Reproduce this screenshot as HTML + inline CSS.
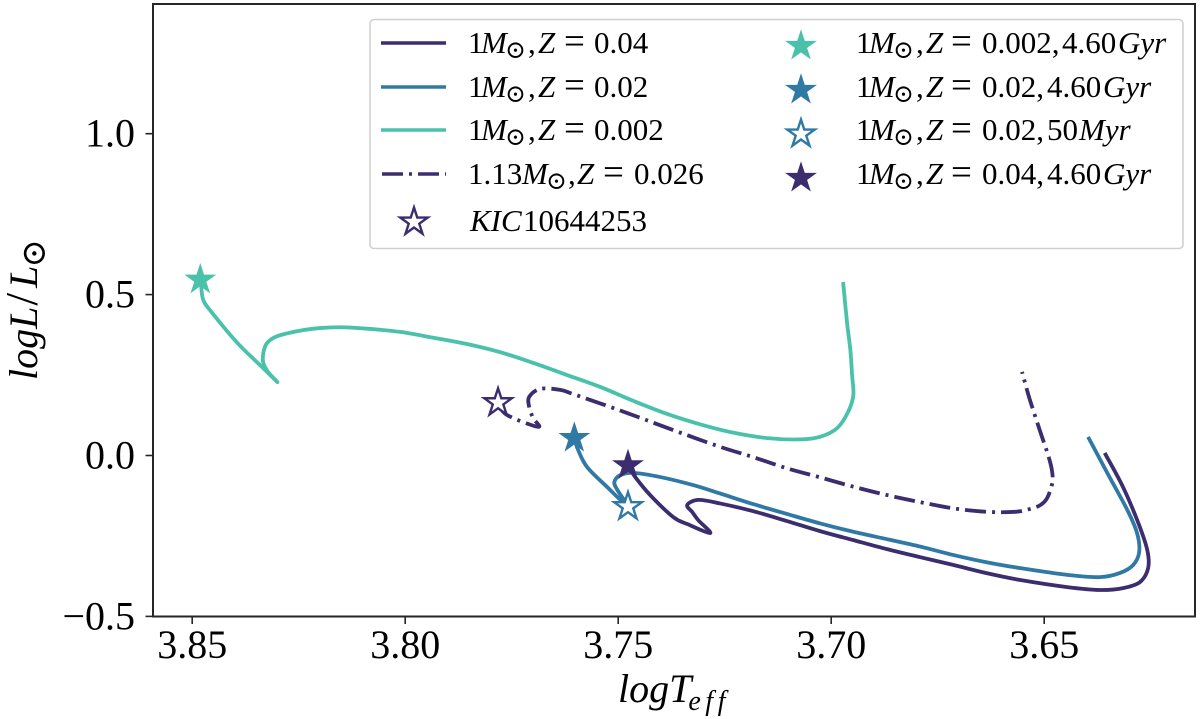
<!DOCTYPE html>
<html>
<head>
<meta charset="utf-8">
<title>HR diagram</title>
<style>
html,body{margin:0;padding:0;background:#fff;}
svg{display:block;}
text{font-family:"Liberation Serif","DejaVu Serif",serif;fill:#000;}
.i{font-style:italic;}
.leg{font-size:31px;}
.sun{font-size:25px;}
.eq{font-size:37px;}
.tick{font-size:40px;}
.axt{font-size:40px;}
</style>
</head>
<body>
<svg id="chart" width="1200" height="719" viewBox="0 0 1200 719" xmlns="http://www.w3.org/2000/svg">
  <rect x="153" y="4" width="1042" height="612.5" fill="#fff"/>
  <g id="marks"></g>
  <g id="axes"></g>

  <text class="axt" x="618" y="702"><tspan class="i">logT</tspan><tspan class="i" font-size="28" dy="8" dx="-3" letter-spacing="4.5">eff</tspan></text>
  <text class="axt" transform="translate(37,380) rotate(-90)"><tspan class="i">logL</tspan><tspan dx="1" font-size="46">/</tspan><tspan class="i" dx="5">L</tspan><tspan font-size="34" dy="8" dx="-2">⊙</tspan></text>

  <g>
    <rect x="370" y="19.5" width="813" height="229" rx="4" fill="#fff" fill-opacity="0.9" stroke="#d0d0d0" stroke-width="1.6"/>
    <g>
      <line x1="381" y1="43" x2="446" y2="43" stroke="#3c2d6e" stroke-width="3.6"/>
      <text class="leg" y="53"><tspan x="468">1</tspan><tspan class="i" x="481">M</tspan><tspan class="sun" x="505" dy="5">⊙</tspan><tspan x="528" dy="-5">,</tspan><tspan class="i" x="538">Z</tspan><tspan class="eq" x="564">=</tspan><tspan x="594">0.04</tspan></text>
    </g>
    <g>
      <line x1="381" y1="87" x2="446" y2="87" stroke="#3079a5" stroke-width="3.6"/>
      <text class="leg" y="97"><tspan x="468">1</tspan><tspan class="i" x="481">M</tspan><tspan class="sun" x="505" dy="5">⊙</tspan><tspan x="528" dy="-5">,</tspan><tspan class="i" x="538">Z</tspan><tspan class="eq" x="564">=</tspan><tspan x="594">0.02</tspan></text>
    </g>
    <g>
      <line x1="381" y1="130" x2="446" y2="130" stroke="#4ac1ab" stroke-width="3.6"/>
      <text class="leg" y="140"><tspan x="468">1</tspan><tspan class="i" x="481">M</tspan><tspan class="sun" x="505" dy="5">⊙</tspan><tspan x="528" dy="-5">,</tspan><tspan class="i" x="538">Z</tspan><tspan class="eq" x="564">=</tspan><tspan x="594">0.002</tspan></text>
    </g>
    <g>
      <line x1="382" y1="174" x2="446" y2="174" stroke="#3c2d6e" stroke-width="3.6" stroke-dasharray="21 6 3 6"/>
      <text class="leg" y="184"><tspan x="468">1.13</tspan><tspan class="i" x="522">M</tspan><tspan class="sun" x="546" dy="5">⊙</tspan><tspan x="568" dy="-5">,</tspan><tspan class="i" x="577">Z</tspan><tspan class="eq" x="603">=</tspan><tspan x="634">0.026</tspan></text>
    </g>
    <g>
      <polygon id="legend-star-kic" fill="#fff" stroke="#3c2d6e" stroke-width="2.4"/>
      <text class="leg" x="470" y="231"><tspan class="i">KIC</tspan><tspan x="523">10644253</tspan></text>
    </g>
    <g>
      <polygon id="legend-star-a" fill="#4ac1ab" stroke="#4ac1ab" stroke-width="2"/>
      <text class="leg" y="53"><tspan x="856">1</tspan><tspan class="i" x="869">M</tspan><tspan class="sun" x="893" dy="5">⊙</tspan><tspan x="916" dy="-5">,</tspan><tspan class="i" x="926">Z</tspan><tspan class="eq" x="951">=</tspan><tspan x="982">0.002,</tspan><tspan x="1062">4.60</tspan><tspan class="i" x="1118">Gyr</tspan></text>
    </g>
    <g>
      <polygon id="legend-star-b" fill="#3079a5" stroke="#3079a5" stroke-width="2"/>
      <text class="leg" y="97"><tspan x="856">1</tspan><tspan class="i" x="869">M</tspan><tspan class="sun" x="893" dy="5">⊙</tspan><tspan x="916" dy="-5">,</tspan><tspan class="i" x="926">Z</tspan><tspan class="eq" x="951">=</tspan><tspan x="982">0.02,</tspan><tspan x="1047">4.60</tspan><tspan class="i" x="1103">Gyr</tspan></text>
    </g>
    <g>
      <polygon id="legend-star-c" fill="#fff" stroke="#3079a5" stroke-width="2.4"/>
      <text class="leg" y="140"><tspan x="856">1</tspan><tspan class="i" x="869">M</tspan><tspan class="sun" x="893" dy="5">⊙</tspan><tspan x="916" dy="-5">,</tspan><tspan class="i" x="926">Z</tspan><tspan class="eq" x="951">=</tspan><tspan x="982">0.02,</tspan><tspan x="1047">50</tspan><tspan class="i" x="1079">Myr</tspan></text>
    </g>
    <g>
      <polygon id="legend-star-d" fill="#3c2d6e" stroke="#3c2d6e" stroke-width="2"/>
      <text class="leg" y="184"><tspan x="856">1</tspan><tspan class="i" x="869">M</tspan><tspan class="sun" x="893" dy="5">⊙</tspan><tspan x="916" dy="-5">,</tspan><tspan class="i" x="926">Z</tspan><tspan class="eq" x="951">=</tspan><tspan x="982">0.04,</tspan><tspan x="1047">4.60</tspan><tspan class="i" x="1103">Gyr</tspan></text>
    </g>
  </g>
</svg>
<script>
const xTicks = [3.85, 3.80, 3.75, 3.70, 3.65];
const xTickLabels = ["3.85", "3.80", "3.75", "3.70", "3.65"];
const yTicks = [-0.5, 0.0, 0.5, 1.0];
const yTickLabels = ["\u22120.5", "0.0", "0.5", "1.0"];

const teffZ0002 = [3.8479,3.8474,3.8453,3.8394,3.8336,3.8300,3.8322,3.8333,3.8333,3.8324,3.8300,3.8246,3.8200,3.8153,3.8089,3.8012,3.7934,3.7854,3.7777,3.7700,3.7620,3.7542,3.7465,3.7385,3.7308,3.7230,3.7150,3.7073,3.7026,3.6986,3.6960,3.6948,3.6951,3.6955,3.6963,3.6972];
const lumZ0002 = [0.530,0.483,0.443,0.350,0.275,0.228,0.260,0.288,0.319,0.350,0.371,0.388,0.396,0.3985,0.394,0.384,0.366,0.346,0.321,0.288,0.250,0.213,0.170,0.129,0.097,0.071,0.054,0.050,0.058,0.085,0.136,0.188,0.250,0.328,0.415,0.539];

const teffZ002 = [3.7603,3.7594,3.7573,3.7526,3.7477,3.7502,3.7509,3.7495,3.7465,3.7401,3.7324,3.7261,3.7183,3.7103,3.7026,3.6948,3.6869,3.6791,3.6714,3.6634,3.6556,3.6446,3.6369,3.6322,3.6291,3.6277,3.6282,3.6305,3.6352,3.6397];
const lumZ002 = [0.054,0.017,-0.036,-0.098,-0.159,-0.107,-0.082,-0.061,-0.054,-0.067,-0.092,-0.118,-0.151,-0.182,-0.211,-0.237,-0.260,-0.283,-0.309,-0.332,-0.350,-0.371,-0.378,-0.365,-0.340,-0.300,-0.241,-0.169,-0.054,0.058];

const teffZ004 = [3.7477,3.7460,3.7425,3.7371,3.7338,3.7284,3.7312,3.7326,3.7338,3.7312,3.7261,3.7183,3.7103,3.7026,3.6948,3.6869,3.6791,3.6714,3.6634,3.6556,3.6446,3.6369,3.6315,3.6275,3.6256,3.6258,3.6279,3.6315,3.6358];
const lumZ004 = [-0.031,-0.067,-0.123,-0.191,-0.213,-0.241,-0.201,-0.176,-0.154,-0.138,-0.149,-0.173,-0.204,-0.235,-0.263,-0.291,-0.316,-0.340,-0.366,-0.387,-0.409,-0.418,-0.412,-0.393,-0.350,-0.294,-0.210,-0.098,0.008];

const teffM113 = [3.7782,3.7761,3.7688,3.7700,3.7709,3.7709,3.7683,3.7636,3.7606,3.7519,3.7448,3.7371,3.7261,3.7183,3.7103,3.7026,3.6948,3.6869,3.6791,3.6714,3.6634,3.6568,3.6533,3.6509,3.6493,3.6481,3.6482,3.6491,3.6509,3.6535,3.6552];
const lumM113 = [0.164,0.126,0.089,0.117,0.151,0.182,0.207,0.204,0.191,0.151,0.117,0.079,0.027,-0.005,-0.040,-0.068,-0.097,-0.123,-0.145,-0.164,-0.175,-0.175,-0.166,-0.154,-0.132,-0.085,-0.045,0.002,0.073,0.179,0.260];

const starTeff = [3.7782, 3.7477, 3.7603, 3.8481, 3.7477];
const starLum = [0.164, -0.159, 0.054, 0.546, -0.031];

const NS = 'http://www.w3.org/2000/svg';
const xDomain = [3.8592, 3.6146];
const xRange = [153, 1195];
const yDomain = [-0.5, 1.403];
const yRange = [616.4, 4];
const X = v => xRange[0] + (v - xDomain[0]) / (xDomain[1] - xDomain[0]) * (xRange[1] - xRange[0]);
const Y = v => yRange[0] + (v - yDomain[0]) / (yDomain[1] - yDomain[0]) * (yRange[1] - yRange[0]);

function curvePath(xs, ys) {
  const p = xs.map((v, i) => [X(v), Y(ys[i])]);
  let d = 'M' + p[0][0].toFixed(2) + ' ' + p[0][1].toFixed(2);
  for (let i = 0; i < p.length - 1; i++) {
    const a = p[Math.max(0, i - 1)], b = p[i], c = p[i + 1], e = p[Math.min(p.length - 1, i + 2)];
    const t = 1 / 6;
    d += ' C' + (b[0] + (c[0] - a[0]) * t).toFixed(2) + ' ' + (b[1] + (c[1] - a[1]) * t).toFixed(2) +
         ' ' + (c[0] - (e[0] - b[0]) * t).toFixed(2) + ' ' + (c[1] - (e[1] - b[1]) * t).toFixed(2) +
         ' ' + c[0].toFixed(2) + ' ' + c[1].toFixed(2);
  }
  return d;
}
function starPoints(cx, cy, R) {
  const r = R * 0.382;
  const pts = [];
  for (let i = 0; i < 10; i++) {
    const a = -Math.PI / 2 + i * Math.PI / 5;
    const q = i % 2 ? r : R;
    pts.push((cx + q * Math.cos(a)).toFixed(2) + ',' + (cy + q * Math.sin(a)).toFixed(2));
  }
  return pts.join(' ');
}

const marks = document.getElementById('marks');
const axes = document.getElementById('axes');

function addLine(xs, ys, color, dash, name) {
  const el = document.createElementNS(NS, 'path');
  
  
  el.setAttribute('d', curvePath(xs, ys));
  el.setAttribute('fill', 'none');
  el.setAttribute('stroke', color);
  el.setAttribute('stroke-width', '3.8');
  el.setAttribute('stroke-linejoin', 'round');
  if (dash) el.setAttribute('stroke-dasharray', dash);
  marks.appendChild(el);
}
addLine(teffM113, lumM113, '#3c2d6e', '21 6 3 6', 'track-113msun-z0026');
addLine(teffZ004, lumZ004, '#3c2d6e', '', 'track-1msun-z004');
addLine(teffZ002, lumZ002, '#3079a5', '', 'track-1msun-z002');
addLine(teffZ0002, lumZ0002, '#4ac1ab', '', 'track-1msun-z0002');

const starFill = ['#fff', '#fff', '#3079a5', '#4ac1ab', '#3c2d6e'];
const starStroke = ['#3c2d6e', '#3079a5', '#3079a5', '#4ac1ab', '#3c2d6e'];
starTeff.forEach((t, i) => {
  const hollow = starFill[i] === '#fff';
  const s = document.createElementNS(NS, 'polygon');
  
  
  s.setAttribute('points', starPoints(X(t), Y(starLum[i]), hollow ? 14.5 : 13.5));
  s.setAttribute('fill', starFill[i]);
  s.setAttribute('stroke', starStroke[i]);
  s.setAttribute('stroke-width', hollow ? '2.4' : '2');
  marks.appendChild(s);
});

document.getElementById('legend-star-kic').setAttribute('points', starPoints(414, 222, 14.5));
document.getElementById('legend-star-a').setAttribute('points', starPoints(801, 46, 13.5));
document.getElementById('legend-star-b').setAttribute('points', starPoints(801, 90, 13.5));
document.getElementById('legend-star-c').setAttribute('points', starPoints(801, 134, 14.5));
document.getElementById('legend-star-d').setAttribute('points', starPoints(801, 178, 13.5));

const frame = document.createElementNS(NS, 'rect');


frame.setAttribute('x', '153');
frame.setAttribute('y', '4');
frame.setAttribute('width', '1042');
frame.setAttribute('height', '612.5');
frame.setAttribute('fill', 'none');
frame.setAttribute('stroke', '#262626');
frame.setAttribute('stroke-width', '2');
axes.appendChild(frame);

xTicks.forEach((v, i) => {
  const l = document.createElementNS(NS, 'line');
  
  
  l.setAttribute('x1', X(v)); l.setAttribute('x2', X(v));
  l.setAttribute('y1', 616.5); l.setAttribute('y2', 624);
  l.setAttribute('stroke', '#262626'); l.setAttribute('stroke-width', '1.6');
  axes.appendChild(l);
  const t = document.createElementNS(NS, 'text');
  
  
  t.setAttribute('class', 'tick');
  t.setAttribute('x', X(v)); t.setAttribute('y', 658);
  t.setAttribute('text-anchor', 'middle');
  t.textContent = xTickLabels[i];
  axes.appendChild(t);
});
yTicks.forEach((v, i) => {
  const l = document.createElementNS(NS, 'line');
  
  
  l.setAttribute('x1', 145.5); l.setAttribute('x2', 153);
  l.setAttribute('y1', Y(v)); l.setAttribute('y2', Y(v));
  l.setAttribute('stroke', '#262626'); l.setAttribute('stroke-width', '1.6');
  axes.appendChild(l);
  const t = document.createElementNS(NS, 'text');
  
  
  t.setAttribute('class', 'tick');
  t.setAttribute('x', 135); t.setAttribute('y', Y(v) + 13);
  t.setAttribute('text-anchor', 'end');
  t.textContent = yTickLabels[i];
  axes.appendChild(t);
});
</script>
</body>
</html>
